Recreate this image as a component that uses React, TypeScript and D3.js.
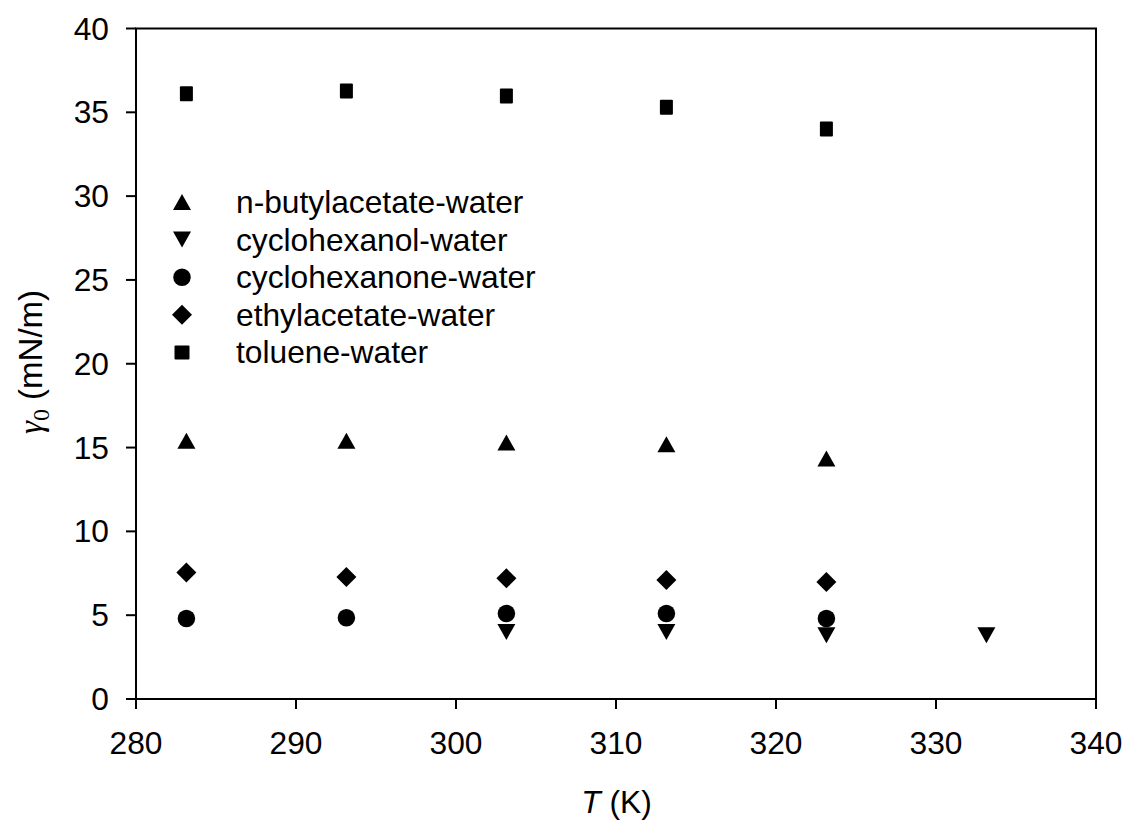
import React from "react";
import * as d3 from "d3";

const temps = [283.15, 293.15, 303.15, 313.15, 323.15];
const butylacetate = [15.4, 15.4, 15.3, 15.2, 14.35];
const cyclohexanolT = [303.15, 313.15, 323.15, 333.15];
const cyclohexanol = [4.0, 4.0, 3.8, 3.8];
const cyclohexanone = [4.8, 4.85, 5.1, 5.1, 4.8];
const ethylacetate = [7.55, 7.28, 7.2, 7.1, 6.98];
const toluene = [36.1, 36.27, 35.98, 35.3, 34.0];
const xTicks = [280, 290, 300, 310, 320, 330, 340];
const yTicks = [0, 5, 10, 15, 20, 25, 30, 35, 40];
const legendLabels = [
  "n-butylacetate-water",
  "cyclohexanol-water",
  "cyclohexanone-water",
  "ethylacetate-water",
  "toluene-water",
];

const L = 136, R = 1096, T = 28.5, B = 699;
const FONT = "Arial, 'Liberation Sans', sans-serif";
const SERIF = "'Liberation Serif', 'DejaVu Serif', serif";
const SX = 1.04;
const FS = 30.5;

type Kind = "up" | "down" | "circle" | "diamond" | "square";

function Marker({ kind, x, y, w, h }: { kind: Kind; x: number; y: number; w?: number; h?: number }) {
  if (kind === "circle") return <ellipse cx={x} cy={y} rx={(w ?? 17.5) / 2} ry={(h ?? 17.5) / 2} fill="#000" />;
  if (kind === "square") {
    const ww = w ?? 13, hh = h ?? 15;
    return <rect x={x - ww / 2} y={y - hh / 2} width={ww} height={hh} rx={1} fill="#000" />;
  }
  if (kind === "diamond") {
    const ww = (w ?? 20) / 2, hh = (h ?? 20) / 2;
    return <polygon points={`${x},${y - hh} ${x + ww},${y} ${x},${y + hh} ${x - ww},${y}`} fill="#000" />;
  }
  const ww = (w ?? 18) / 2, hh = (h ?? 16) / 2;
  if (kind === "up")
    return <polygon points={`${x},${y - hh} ${x + ww},${y + hh} ${x - ww},${y + hh}`} fill="#000" />;
  return <polygon points={`${x - ww},${y - hh} ${x + ww},${y - hh} ${x},${y + hh}`} fill="#000" />;
}

function SText({ x, y, children, anchor = "start", size = FS }: any) {
  return (
    <g transform={`translate(${x},${y}) scale(${SX},1)`}>
      <text x={0} y={0} textAnchor={anchor} fontFamily={FONT} fontSize={size} fill="#000">
        {children}
      </text>
    </g>
  );
}

export default function App() {
  const x = d3.scaleLinear().domain([280, 340]).range([L, R]);
  const y = d3.scaleLinear().domain([0, 40]).range([B, T]);

  const series: { kind: Kind; xs: number[]; ys: number[] }[] = [
    { kind: "up", xs: temps, ys: butylacetate },
    { kind: "down", xs: cyclohexanolT, ys: cyclohexanol },
    { kind: "circle", xs: temps, ys: cyclohexanone },
    { kind: "diamond", xs: temps, ys: ethylacetate },
    { kind: "square", xs: temps, ys: toluene },
  ];

  return (
    <svg width={1126} height={821} style={{ position: "absolute", left: 0, top: 0, background: "#fff" }}>
      <rect x={0} y={0} width={1126} height={821} fill="#fff" />
      <rect x={L} y={T} width={R - L} height={B - T} fill="none" stroke="#000" strokeWidth={2} />
      {yTicks.map((t) => (
        <g key={"y" + t}>
          <line x1={L - 10} x2={L} y1={y(t)} y2={y(t)} stroke="#000" strokeWidth={2} />
          <SText x={109} y={y(t) + 11} anchor="end">{t}</SText>
        </g>
      ))}
      {xTicks.map((t) => (
        <g key={"x" + t}>
          <line x1={x(t)} x2={x(t)} y1={B} y2={B + 10} stroke="#000" strokeWidth={2} />
          <SText x={x(t)} y={754} anchor="middle">{t}</SText>
        </g>
      ))}
      {series.map((s, i) =>
        s.xs.map((xv, j) => <Marker key={i + "-" + j} kind={s.kind} x={x(xv)} y={y(s.ys[j])} />)
      )}
      {series.map((s, i) => (
        <g key={"lg" + i}>
          <Marker kind={s.kind} x={182} y={202 + i * 37.6} w={s.kind === "square" ? 15 : undefined} h={s.kind === "square" ? 14 : undefined} />
          <SText x={236} y={202 + i * 37.6 + 11}>{legendLabels[i]}</SText>
        </g>
      ))}
      <g transform={`translate(616.5,813) scale(${SX},1)`}>
        <text textAnchor="middle" fontFamily={FONT} fontSize={FS} fill="#000">
          <tspan fontStyle="italic">T</tspan>
          <tspan> (K)</tspan>
        </text>
      </g>
      <g transform={`translate(42,362) rotate(-90)`}>
        <text textAnchor="middle" fontFamily={FONT} fontSize={33} fill="#000">
          <tspan fontFamily={SERIF} fontStyle="italic">γ</tspan>
          <tspan fontFamily={SERIF} fontSize={24} dy={7}>0</tspan>
          <tspan dy={-7}> (mN/m)</tspan>
        </text>
      </g>
    </svg>
  );
}
